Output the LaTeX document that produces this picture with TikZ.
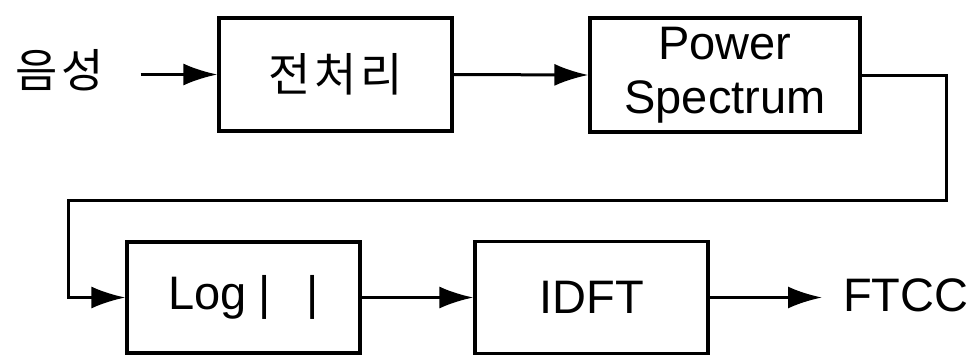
\documentclass[tikz,border=0pt]{standalone}
\usepackage{fontspec}
\setmainfont{Liberation Sans}
\newfontfamily\kr{Noto Sans CJK KR}
\usetikzlibrary{arrows.meta}
\begin{document}
\begin{tikzpicture}[x=1pt,y=-1pt,
  blk/.style={draw, line width=3.2pt, inner sep=0pt, align=center,
    font=\fontsize{47}{54}\selectfont},
  arr/.style={line width=3pt, -{Latex[length=34pt,width=22pt]}},
  lbl/.style={inner sep=0pt, font=\fontsize{47}{54}\selectfont}]
\useasboundingbox (0,0) rectangle (973,361);
\node[blk, minimum width=233pt, minimum height=113pt] (b1) at (335.5,74.5)
  {\kr\fontsize{46}{54}\selectfont 전\hspace{4pt}처\hspace{4pt}리};
\node[blk, minimum width=270pt, minimum height=114pt] (b2) at (725,75)
  {Power\\Spectrum};
\node[blk, minimum width=233pt, minimum height=111pt] (b3) at (243.5,297.5)
  {Log\hspace{12pt}|\hspace{36pt}|};
\node[blk, minimum width=233pt, minimum height=112pt] (b4) at (591.5,297.5)
  {IDFT};
\node[lbl, anchor=center] (in) at (60,70)
  {\kr\fontsize{46}{54}\selectfont 음\hspace{4pt}성};
\node[lbl, anchor=west] (out) at (843,295) {FTCC};
\draw[arr, shorten <=36pt] (in.east |- b1.west) -- (b1.west);
\draw[arr] (b1.east) -- (b2.west);
\draw[arr] (b2.east) -- ++(85,0) |- (68,200) |- (b3.west);
\draw[arr] (b3.east) -- (b4.west);
\draw[arr] (b4.east) -- ([xshift=-21pt]b4.east -| out.west);
\end{tikzpicture}
\end{document}
